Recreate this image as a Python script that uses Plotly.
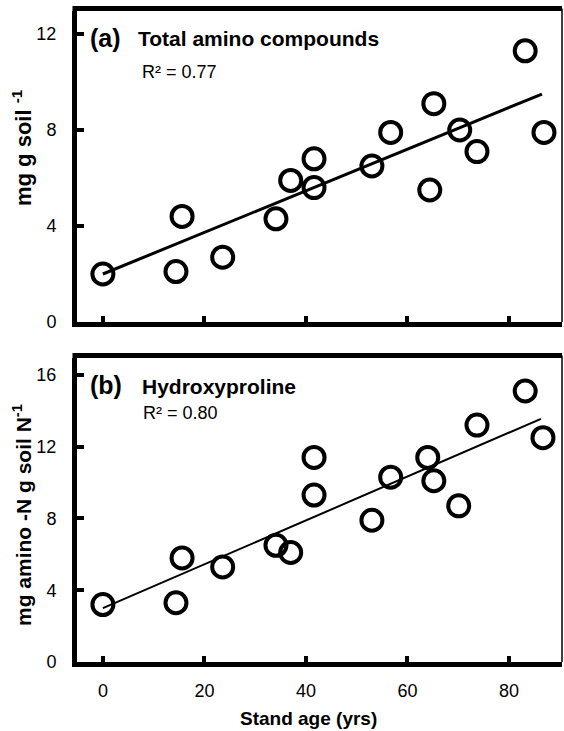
import plotly.graph_objects as go

# ---- data ----
age_a = [0, 14.4, 15.6, 23.6, 34.1, 37.0, 41.6, 41.6, 53.0, 56.7, 65.2, 64.4, 70.3, 73.7, 83.2, 86.9]
amino_total = [2.0, 2.1, 4.4, 2.7, 4.3, 5.9, 6.8, 5.6, 6.5, 7.9, 9.1, 5.5, 8.0, 7.1, 11.3, 7.9]
fit_a_x = [0, 86.5]
fit_a_y = [2.0, 9.5]

age_b = [0, 14.4, 15.6, 23.6, 34.1, 37.0, 41.6, 41.6, 53.0, 56.7, 64.0, 65.2, 70.1, 73.7, 83.2, 86.7]
hydroxyproline = [3.2, 3.3, 5.8, 5.3, 6.5, 6.1, 11.4, 9.3, 7.9, 10.3, 11.4, 10.1, 8.7, 13.2, 15.1, 12.5]
fit_b_x = [0, 86.3]
fit_b_y = [3.0, 13.55]

x_ticks = [0, 20, 40, 60, 80]
ya_ticks = [0, 4, 8, 12]
yb_ticks = [0, 4, 8, 12, 16]

W, H = 564, 731
def px(x):
    return x / W
def py(y):
    return 1 - y / H

FONT = "Liberation Sans, Arial, sans-serif"

fig = go.Figure()
fig.add_trace(go.Scatter(x=fit_a_x, y=fit_a_y, mode="lines", line=dict(color="black", width=3),
                         xaxis="x", yaxis="y", showlegend=False, hoverinfo="skip"))
fig.add_trace(go.Scatter(x=age_a, y=amino_total, mode="markers",
                         marker=dict(symbol="circle-open", size=21, color="black", line=dict(width=4, color="black")),
                         xaxis="x", yaxis="y", showlegend=False))
fig.add_trace(go.Scatter(x=fit_b_x, y=fit_b_y, mode="lines", line=dict(color="black", width=2),
                         xaxis="x2", yaxis="y2", showlegend=False, hoverinfo="skip"))
fig.add_trace(go.Scatter(x=age_b, y=hydroxyproline, mode="markers",
                         marker=dict(symbol="circle-open", size=21, color="black", line=dict(width=4, color="black")),
                         xaxis="x2", yaxis="y2", showlegend=False))

xdom = [px(77), px(562)]
xrange_ = [-5.1, 90.45]
common_x = dict(domain=xdom, range=xrange_, tickvals=x_ticks, ticks="inside", ticklen=6, tickwidth=4,
                tickcolor="black", showline=True, linecolor="black", linewidth=5, mirror=False,
                showgrid=False, zeroline=False, automargin=False,
                tickfont=dict(family=FONT, size=18, color="black"))
common_y = dict(ticks="inside", ticklen=7, tickwidth=4, tickcolor="black", showline=True,
                linecolor="black", linewidth=5, showgrid=False, zeroline=False, automargin=False,
                tickfont=dict(family=FONT, size=18, color="black"), ticklabelstandoff=12)

fig.update_layout(
    width=W, height=H, margin=dict(l=0, r=0, t=0, b=0),
    paper_bgcolor="white", plot_bgcolor="white",
    xaxis=dict(**common_x, anchor="y", showticklabels=False),
    yaxis=dict(**common_y, domain=[py(322), py(11)], range=[0, 12.96], tickvals=ya_ticks, anchor="x"),
    xaxis2=dict(**common_x, anchor="y2", showticklabels=True, ticklabelstandoff=8),
    yaxis2=dict(**common_y, domain=[py(662), py(358)], range=[0, 16.94], tickvals=yb_ticks, anchor="x2"),
)

# thick top borders and thin right borders
for top, bot in [(11, 322), (358, 662)]:
    fig.add_shape(type="line", xref="paper", yref="paper", x0=px(72.5), x1=px(562), y0=py(top - 2.5), y1=py(top - 2.5),
                  line=dict(color="black", width=5))
    fig.add_shape(type="line", xref="paper", yref="paper", x0=px(562), x1=px(562), y0=py(bot), y1=py(top - 2.5),
                  line=dict(color="black", width=1.5))

ann = []
def text(x, y, s, size, bold=False, xanchor="left", angle=0):
    ann.append(dict(x=px(x), y=py(y), xref="paper", yref="paper", text=("<b>%s</b>" % s) if bold else s,
                    showarrow=False, xanchor=xanchor, yanchor="middle", textangle=angle,
                    font=dict(family=FONT, size=size, color="black")))

text(88, 38, "(a)", 25, bold=True)
text(136, 39, "Total amino compounds", 21, bold=True)
text(140, 72, "R² = 0.77", 18)
text(88, 385, "(b)", 25, bold=True)
text(140, 386, "Hydroxyproline", 21, bold=True)
text(141, 413, "R² = 0.80", 18)
text(22, 148, "mg g soil <sup>-1</sup>", 22, bold=True, xanchor="center", angle=-90)
text(22, 515, "mg amino -N g soil N<sup>-1</sup>", 21, bold=True, xanchor="center", angle=-90)
text(308, 718, "Stand age (yrs)", 19, bold=True, xanchor="center")
fig.update_layout(annotations=ann)

fig.write_html("out.html")
